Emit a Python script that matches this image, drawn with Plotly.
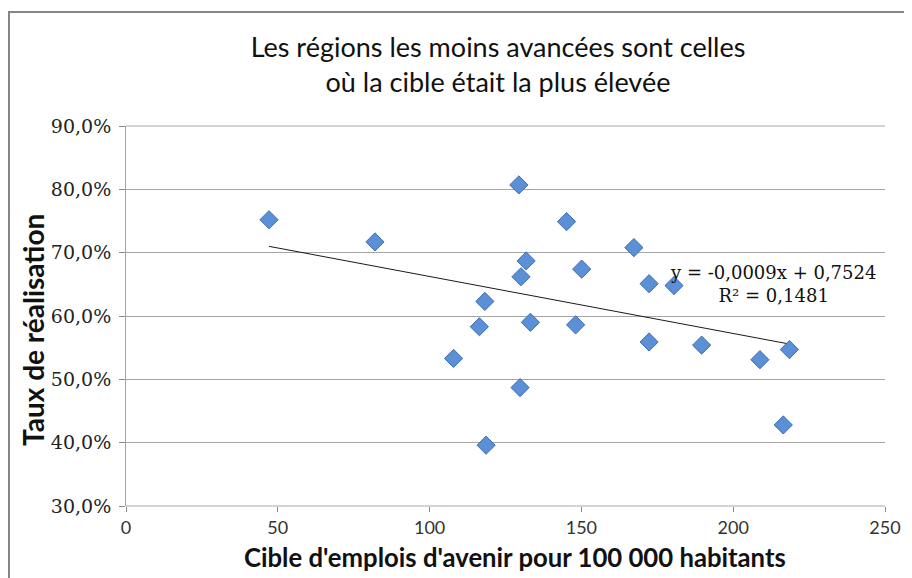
import numpy as np
import plotly.graph_objects as go

# Data
cible = [47.1, 82.0, 129.4, 145.1, 167.3, 131.8, 130.1, 150.1, 172.3, 180.5,
         118.2, 116.4, 133.2, 148.1, 107.9, 172.3, 189.6, 208.8, 218.5, 129.8,
         216.5, 118.6]
taux = [0.752, 0.717, 0.807, 0.749, 0.708, 0.687, 0.662, 0.674, 0.651, 0.648,
        0.623, 0.583, 0.590, 0.586, 0.533, 0.559, 0.554, 0.531, 0.547, 0.487,
        0.428, 0.396]

slope = -0.0009
intercept = 0.7524
eq_text = "y = -0,0009x + 0,7524<br>R² = 0,1481"

title_text = "Les régions les moins avancées sont celles<br>où la cible était la plus élevée"
x_title = "Cible d'emplois d'avenir pour 100 000 habitants"
y_title = "Taux de réalisation"

x_ticks = [0, 50, 100, 150, 200, 250]
y_ticks = [0.3, 0.4, 0.5, 0.6, 0.7, 0.8, 0.9]

x_line = np.array([min(cible), max(cible)])
y_line = slope * x_line + intercept

fig = go.Figure()
fig.add_trace(go.Scatter(
    x=x_line, y=y_line, mode="lines",
    line=dict(color="#1a1a1a", width=1), hoverinfo="skip", showlegend=False))
fig.add_trace(go.Scatter(
    x=cible, y=taux, mode="markers",
    marker=dict(symbol="diamond", size=14, color="#5b8fd6",
                line=dict(color="#3d6db4", width=1)),
    showlegend=False))

# page body has an 8px margin: work in reference pixels minus 8
OFF = 8
W, H = 912 - OFF, 578 - OFF
L, T = 126 - OFF, 126 - OFF
R = W - (885 - OFF)
B = H - (506 - OFF)
pw, ph = W - L - R, H - T - B

def px_x(p):
    return (p - OFF - L) / pw

def px_y(p):
    return (H - B - (p - OFF)) / ph

fig.update_layout(
    width=W, height=H,
    margin=dict(l=L, r=R, t=T, b=B, pad=0),
    paper_bgcolor="white", plot_bgcolor="white",
    separators=", ",
    showlegend=False,
    title=dict(text=title_text, x=px_x(498), xref="paper", xanchor="center",
               y=1 - (57 - OFF) / H, yref="container", yanchor="middle",
               font=dict(family="Lato", size=27, color="#111111")),
    xaxis=dict(range=[0, 250], tickvals=x_ticks, showgrid=False, zeroline=False,
               showline=False, ticks="outside", ticklen=5, tickcolor="#8a8a8a",
               tickfont=dict(family="Lato", size=18, color="#333333")),
    yaxis=dict(range=[0.3, 0.9], tickvals=y_ticks, tickformat=".1%",
               showgrid=True, gridcolor="#a6a6a6", gridwidth=1, zeroline=False,
               showline=True, linecolor="#a6a6a6", linewidth=1,
               ticks="outside", ticklen=6, tickcolor="#8a8a8a",
               ticklabelstandoff=4,
               tickfont=dict(family="DejaVu Serif", size=19, color="#222222")),
    annotations=[
        dict(text=eq_text, x=px_x(773), y=px_y(284), xref="paper", yref="paper",
             xanchor="center", yanchor="middle",
             showarrow=False, align="center",
             font=dict(family="DejaVu Serif", size=18, color="#111111")),
        dict(text="<b>" + x_title + "</b>", x=px_x(515), y=px_y(557),
             xref="paper", yref="paper", xanchor="center", yanchor="middle",
             showarrow=False,
             font=dict(family="Lato", size=25.7, color="#111111")),
        dict(text="<b>" + y_title + "</b>", x=px_x(33), y=px_y(330),
             xref="paper", yref="paper", xanchor="center", yanchor="middle",
             showarrow=False, textangle=-90,
             font=dict(family="Lato", size=28, color="#111111")),
    ],
    shapes=[
        dict(type="rect", xref="paper", yref="paper",
             x0=px_x(9), x1=px_x(960), y0=px_y(640), y1=px_y(12),
             line=dict(color="#868686", width=2), fillcolor="rgba(0,0,0,0)",
             layer="below"),
        dict(type="line", xref="paper", yref="paper",
             x0=0, x1=1, y0=0, y1=0, line=dict(color="#a6a6a6", width=1),
             layer="below"),
        dict(type="line", xref="paper", yref="paper",
             x0=0, x1=1, y0=1, y1=1, line=dict(color="#a6a6a6", width=1),
             layer="below"),
    ],
)

fig.write_html("out.html")
